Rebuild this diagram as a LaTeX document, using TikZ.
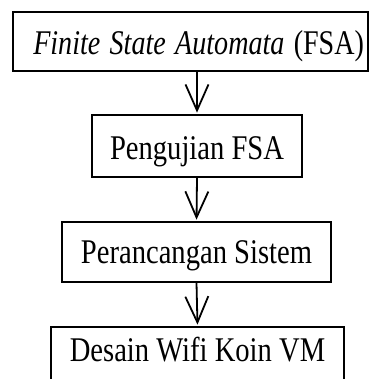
\documentclass[tikz,border=0pt]{standalone}
\usepackage{fontspec}
\usepackage{graphicx}
\setmainfont{Liberation Serif}
\usetikzlibrary{arrows.meta}
\newcommand{\vtxt}[2][1]{\scalebox{#1}[1.21]{#2}}
\tikzset{
  boxnode/.style={draw=black, line width=1.7pt, inner xsep=4pt, inner ysep=0pt, text depth=0pt,
    font=\fontsize{28.6}{30}\selectfont, anchor=center},
  flowarrow/.style={line width=1.8pt, -{Straight Barb[length=26pt,width=23pt,line width=1.8pt]}, shorten >=1.5pt}
}
\begin{document}
\begin{tikzpicture}[x=1pt,y=-1pt]
\useasboundingbox (0,0) rectangle (369,379);
\clip (0,0) rectangle (369,379);
\node[boxnode, minimum width=355pt, minimum height=59pt, text width=347pt, align=right, text height=27pt] (b1) at (190.5,41.5) {\vtxt[0.982]{\textit{Finite State Automata} (FSA)}};
\node[boxnode, minimum width=210pt, minimum height=62pt, text height=28pt] (b2) at (197,146) {\vtxt{Pengujian FSA}};
\node[boxnode, minimum width=269pt, minimum height=60pt, text height=22pt] (b3) at (196.5,252) {\vtxt{Perancangan Sistem}};
\node[boxnode, minimum width=293pt, minimum height=60pt, text height=8pt] (b4) at (197.5,357) {\vtxt{Desain Wifi Koin VM}};
\draw[flowarrow] (b1.south -| b2.north) -- (b2.north);
\draw[flowarrow] (b2.south) -- (b3.north);
\draw[flowarrow] (b3.south) -- (b4.north);
\end{tikzpicture}
\end{document}
